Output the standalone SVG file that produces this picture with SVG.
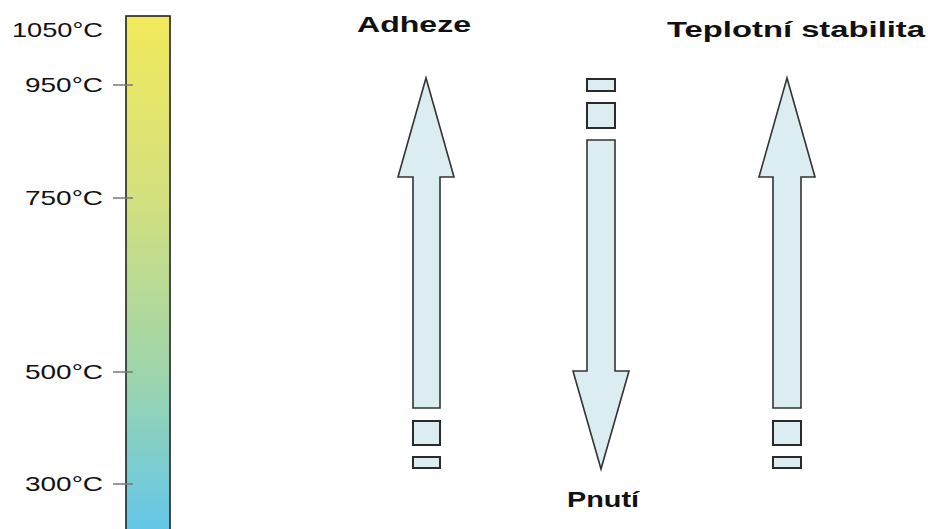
<svg xmlns="http://www.w3.org/2000/svg" width="928" height="529" viewBox="0 0 928 529">
  <defs>
    <linearGradient id="tempGrad" x1="0" y1="0" x2="0" y2="1">
      <stop offset="0" stop-color="#f3ea5c"/>
      <stop offset="0.35" stop-color="#d3e07e"/>
      <stop offset="0.68" stop-color="#9fd5aa"/>
      <stop offset="1" stop-color="#62c6ec"/>
    </linearGradient>
  </defs>
  <style>
    .scale { font-family: "Liberation Sans", Arial, sans-serif; font-size: 21px; fill: #111; }
    .title { font-family: "Liberation Sans", Arial, sans-serif; font-size: 22px; font-weight: bold; fill: #111; }
    .tick { stroke: #777; stroke-width: 1.5; }
    .arrow { fill: #dcedf1; stroke: #333; stroke-width: 1.6; stroke-linejoin: miter; }
    .seg { fill: #dcedf1; stroke: #2a2a2a; stroke-width: 2; }
  </style>
  <rect width="928" height="529" fill="#ffffff"/>

  <!-- temperature scale -->
  <g id="scale">
    <rect x="126" y="16" width="44" height="520" fill="url(#tempGrad)" stroke="#222" stroke-width="1.6"/>
    <line class="tick" x1="113" y1="85" x2="133" y2="85"/>
    <line class="tick" x1="113" y1="198" x2="133" y2="198"/>
    <line class="tick" x1="113" y1="372" x2="133" y2="372"/>
    <line class="tick" x1="113" y1="484" x2="133" y2="484"/>
    <text class="scale" x="12" y="37" textLength="91" lengthAdjust="spacingAndGlyphs">1050°C</text>
    <text class="scale" x="25" y="92" textLength="78" lengthAdjust="spacingAndGlyphs">950°C</text>
    <text class="scale" x="25" y="205" textLength="78" lengthAdjust="spacingAndGlyphs">750°C</text>
    <text class="scale" x="25" y="379" textLength="78" lengthAdjust="spacingAndGlyphs">500°C</text>
    <text class="scale" x="25" y="491" textLength="78" lengthAdjust="spacingAndGlyphs">300°C</text>
  </g>

  <!-- adhesion: upward arrow -->
  <g id="adheze">
    <text class="title" x="357" y="32" textLength="114" lengthAdjust="spacingAndGlyphs">Adheze</text>
    <path class="arrow" d="M426 78 L454 177 L440 177 L440 408 L413 408 L413 177 L398 177 Z"/>
    <rect class="seg" x="413" y="421" width="27" height="24"/>
    <rect class="seg" x="413" y="457" width="27" height="11"/>
  </g>

  <!-- stress: downward arrow -->
  <g id="pnuti">
    <rect class="seg" x="587" y="79" width="28" height="12"/>
    <rect class="seg" x="587" y="103" width="28" height="25"/>
    <path class="arrow" d="M587 140 L615 140 L615 371 L629 371 L601 469 L573 371 L587 371 Z"/>
    <text class="title" x="567" y="507" textLength="72" lengthAdjust="spacingAndGlyphs">Pnutí</text>
  </g>

  <!-- thermal stability: upward arrow -->
  <g id="teplotni-stabilita">
    <text class="title" x="667" y="37" textLength="258" lengthAdjust="spacingAndGlyphs">Teplotní stabilita</text>
    <path class="arrow" d="M787 78 L815 177 L801 177 L801 408 L773 408 L773 177 L759 177 Z"/>
    <rect class="seg" x="773" y="421" width="28" height="24"/>
    <rect class="seg" x="773" y="457" width="28" height="11"/>
  </g>
</svg>
